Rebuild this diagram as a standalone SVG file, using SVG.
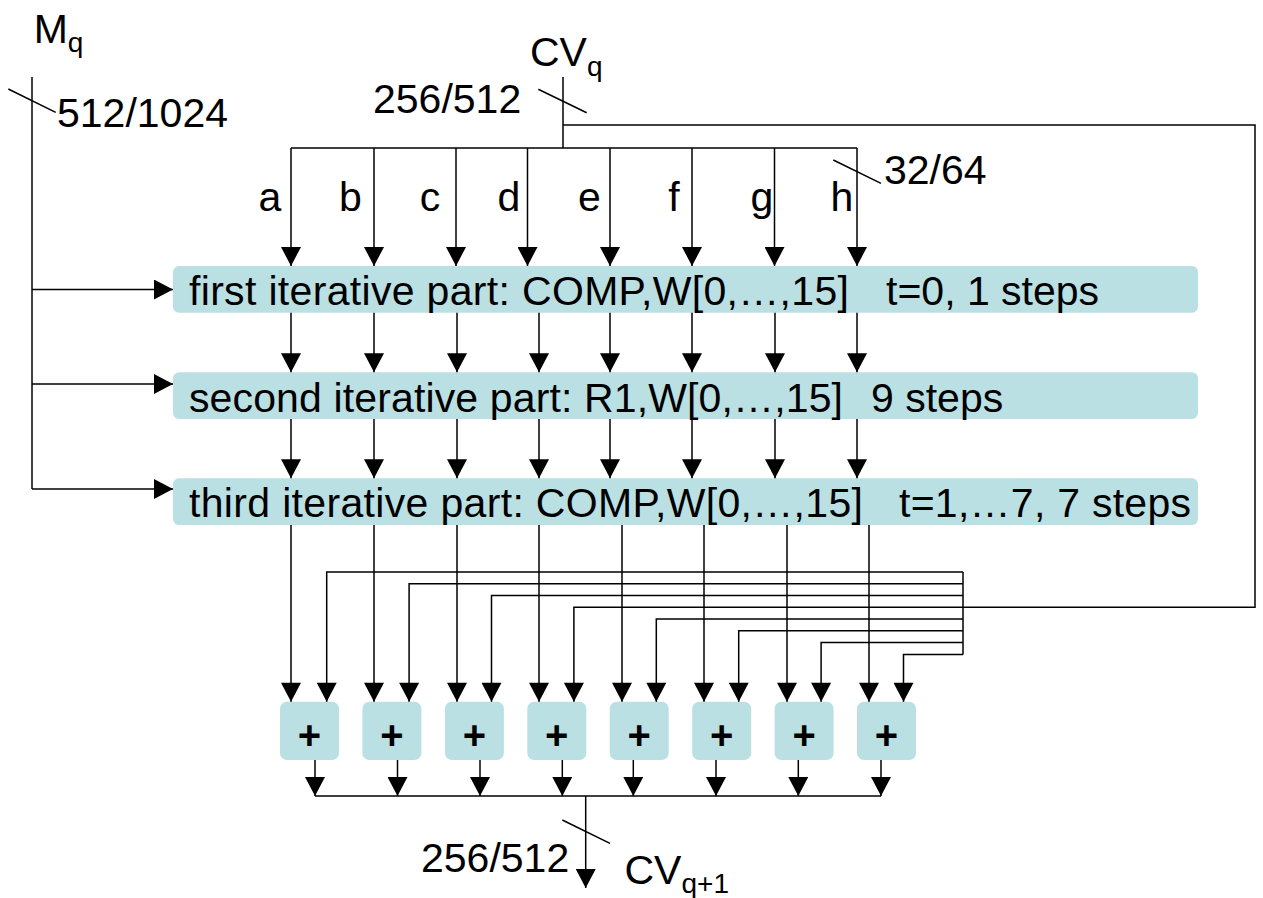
<svg xmlns="http://www.w3.org/2000/svg" width="1263" height="898" viewBox="0 0 1263 898">
<style>
.t{font-family:"Liberation Sans",Arial,sans-serif;font-size:41px;fill:#000}
.sub{font-size:28px}
.box{fill:#BBE0E3}
.pl{font-family:"Liberation Sans",Arial,sans-serif;font-size:40px;font-weight:bold;fill:#000;text-anchor:middle}
.c path,.c line{stroke:#000;stroke-width:1.5;fill:none}
.a{marker-end:url(#ah)}
</style>
<defs>
<marker id="ah" markerUnits="userSpaceOnUse" markerWidth="20" markerHeight="20" refX="19" refY="10" orient="auto" viewBox="0 0 19 20"><path d="M0,0 L19,10 L0,20 z" fill="#000"/></marker>
</defs>
<rect width="1263" height="898" fill="#fff"/>
<g id="boxes">
<g id="first"><rect class="box" x="173" y="266" width="1025" height="46.7" rx="6"/><text class="t" x="189" y="305" textLength="660" lengthAdjust="spacing">first iterative part: COMP,W[0,…,15]</text><text class="t" x="886" y="305">t=0, 1 steps</text></g>
<g id="second"><rect class="box" x="173" y="372.3" width="1025" height="46.7" rx="6"/><text class="t" x="189" y="411.5" textLength="654" lengthAdjust="spacing">second iterative part: R1,W[0,…,15]</text><text class="t" x="871" y="411.5">9 steps</text></g>
<g id="third"><rect class="box" x="173" y="478.3" width="1025" height="46.7" rx="6"/><text class="t" x="189" y="517.3" textLength="674" lengthAdjust="spacing">third iterative part: COMP,W[0,…,15]</text><text class="t" x="899" y="517.3" textLength="292" lengthAdjust="spacing">t=1,…7, 7 steps</text></g>
</g>
<g id="adders">
<g id="add1"><rect class="box" x="280" y="701.7" width="59" height="58.3" rx="7"/><text class="pl" x="309.5" y="749">+</text></g>
<g id="add2"><rect class="box" x="362.4" y="701.7" width="59" height="58.3" rx="7"/><text class="pl" x="391.9" y="749">+</text></g>
<g id="add3"><rect class="box" x="444.9" y="701.7" width="59" height="58.3" rx="7"/><text class="pl" x="474.4" y="749">+</text></g>
<g id="add4"><rect class="box" x="527.3" y="701.7" width="59" height="58.3" rx="7"/><text class="pl" x="556.8" y="749">+</text></g>
<g id="add5"><rect class="box" x="609.7" y="701.7" width="59" height="58.3" rx="7"/><text class="pl" x="639.2" y="749">+</text></g>
<g id="add6"><rect class="box" x="692.2" y="701.7" width="59" height="58.3" rx="7"/><text class="pl" x="721.7" y="749">+</text></g>
<g id="add7"><rect class="box" x="774.6" y="701.7" width="59" height="58.3" rx="7"/><text class="pl" x="804.1" y="749">+</text></g>
<g id="add8"><rect class="box" x="857" y="701.7" width="59" height="58.3" rx="7"/><text class="pl" x="886.5" y="749">+</text></g>
</g>
<g id="labels">
<text class="t" x="33.7" y="43">M<tspan class="sub" dy="9">q</tspan></text>
<text class="t" x="57" y="126.5">512/1024</text>
<text class="t" x="530" y="66">CV<tspan class="sub" dy="10">q</tspan></text>
<text class="t" x="373" y="113">256/512</text>
<text class="t" x="884" y="184.3">32/64</text>
<g text-anchor="middle">
<text class="t" x="270" y="211">a</text>
<text class="t" x="350.5" y="211">b</text>
<text class="t" x="430" y="211">c</text>
<text class="t" x="509" y="211">d</text>
<text class="t" x="589.5" y="211">e</text>
<text class="t" x="674" y="211">f</text>
<text class="t" x="762" y="211">g</text>
<text class="t" x="842" y="211">h</text>
</g>
<text class="t" x="421" y="872">256/512</text>
<text class="t" x="624.5" y="884">CV<tspan class="sub" dy="9">q+1</tspan></text>
</g>
<g id="connectors" class="c">
<path d="M32,77 V489"/>
<path class="a" d="M32,289.5 H173"/>
<path class="a" d="M32,384 H173"/>
<path class="a" d="M32,489 H173"/>
<path d="M563,77 V148"/>
<path d="M291,148 H857"/>
<path d="M563,125 H1255 V607.3 H963"/>
<path class="a" d="M291,148 V266"/>
<path class="a" d="M374,148 V266"/>
<path class="a" d="M456,148 V266"/>
<path class="a" d="M527.5,148 V266"/>
<path class="a" d="M610,148 V266"/>
<path class="a" d="M692,148 V266"/>
<path class="a" d="M774.5,148 V266"/>
<path class="a" d="M857,148 V266"/>
<path class="a" d="M291,312.7 V372.3"/>
<path class="a" d="M374,312.7 V372.3"/>
<path class="a" d="M457,312.7 V372.3"/>
<path class="a" d="M539,312.7 V372.3"/>
<path class="a" d="M610,312.7 V372.3"/>
<path class="a" d="M692,312.7 V372.3"/>
<path class="a" d="M775,312.7 V372.3"/>
<path class="a" d="M857,312.7 V372.3"/>
<path class="a" d="M291,419 V478.3"/>
<path class="a" d="M374,419 V478.3"/>
<path class="a" d="M457,419 V478.3"/>
<path class="a" d="M539,419 V478.3"/>
<path class="a" d="M610,419 V478.3"/>
<path class="a" d="M692,419 V478.3"/>
<path class="a" d="M775,419 V478.3"/>
<path class="a" d="M857,419 V478.3"/>
<path class="a" d="M291,525 V701.7"/>
<path class="a" d="M374,525 V701.7"/>
<path class="a" d="M457,525 V701.7"/>
<path class="a" d="M539,525 V701.7"/>
<path class="a" d="M622,525 V701.7"/>
<path class="a" d="M704,525 V701.7"/>
<path class="a" d="M787,525 V701.7"/>
<path class="a" d="M869,525 V701.7"/>
<path d="M963,572 V654.4"/>
<path class="a" d="M963,572 H326.7 V701.7"/>
<path class="a" d="M963,583.7 H409.1 V701.7"/>
<path class="a" d="M963,595.5 H491.5 V701.7"/>
<path class="a" d="M963,607.3 H573.9 V701.7"/>
<path class="a" d="M963,619 H656.3 V701.7"/>
<path class="a" d="M963,630.8 H738.7 V701.7"/>
<path class="a" d="M963,642.6 H821.1 V701.7"/>
<path class="a" d="M963,654.4 H903.5 V701.7"/>
<path class="a" d="M315,760 V796"/>
<path class="a" d="M397.5,760 V796"/>
<path class="a" d="M480,760 V796"/>
<path class="a" d="M562.3,760 V796"/>
<path class="a" d="M633.3,760 V796"/>
<path class="a" d="M716,760 V796"/>
<path class="a" d="M798.3,760 V796"/>
<path class="a" d="M881,760 V796"/>
<path d="M315,796 H881"/>
<path class="a" d="M585.7,796 V888"/>
<line x1="8.3" y1="89" x2="55.7" y2="112.3"/>
<line x1="538.3" y1="89.3" x2="586.7" y2="112.7"/>
<line x1="833.3" y1="160" x2="881" y2="183.3"/>
<line x1="562.3" y1="820" x2="610" y2="843.3"/>
</g>
</svg>
